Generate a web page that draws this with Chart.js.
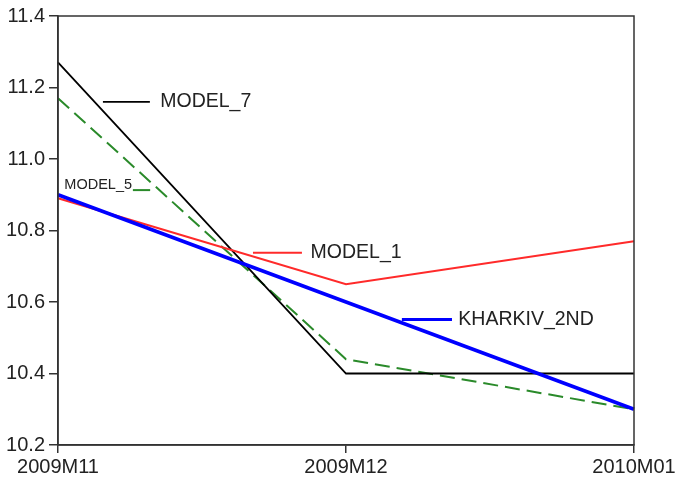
<!DOCTYPE html>
<html>
<head>
<meta charset="utf-8">
<script src="https://cdn.jsdelivr.net/npm/chart.js@4"></script>
<style>
  html, body { margin: 0; padding: 0; background: #fff; }
  #wrap { width: 678px; height: 481px; }
</style>
</head>
<body>
<div id="wrap"><canvas id="myChart" width="678" height="481"></canvas></div>
<script>
// Monthly series
const periods = ['2009M11', '2009M12', '2010M01'];
const kharkiv2nd = [10.90, 10.60, 10.30];
const model1 = [10.89, 10.65, 10.77];
const model5 = [11.17, 10.44, 10.30];
const model7 = [11.27, 10.40, 10.40];
const yMin = 10.2;
const yMax = 11.4;
const yStep = 0.2;

const FONT = '"Liberation Sans", Arial, sans-serif';

// Inline series names with a short sample of the line, placed in data units
const tags = [
    { text: 'MODEL_7', x0: 0.156, x1: 0.319, y: 11.16, tx: 0.355, color: '#000000', width: 1.8, size: 19.5 },
    { text: 'MODEL_5', x0: 0.26, x1: 0.32, y: 10.913, tx: 0.022, color: '#2a8a2a', width: 2, size: 14.5, textFirst: true },
    { text: 'MODEL_1', x0: 0.677, x1: 0.847, y: 10.738, tx: 0.877, color: '#ff2a2a', width: 2, size: 19.5 },
    { text: 'KHARKIV_2ND', x0: 1.194, x1: 1.368, y: 10.551, tx: 1.39, color: '#0000ff', width: 3, size: 19.5 }
];

const tagPlugin = {
    id: 'tags',
    afterDatasetsDraw(chart) {
        const c = chart.ctx;
        const xs = chart.scales.x, ys = chart.scales.y;
        c.save();
        tags.forEach(t => {
            const y = ys.getPixelForValue(t.y);
            c.strokeStyle = t.color;
            c.lineWidth = t.width;
            c.beginPath();
            c.moveTo(xs.getPixelForValue(t.x0), y);
            c.lineTo(xs.getPixelForValue(t.x1), y);
            c.stroke();
            c.fillStyle = '#222';
            c.font = t.size + 'px ' + FONT;
            c.textBaseline = t.textFirst ? 'alphabetic' : 'middle';
            c.textAlign = 'left';
            c.fillText(t.text, xs.getPixelForValue(t.tx), t.textFirst ? y - 1 : y);
        });
        c.restore();
    }
};

// Box around the plot area
const framePlugin = {
    id: 'frame',
    afterDraw(chart) {
        const a = chart.chartArea;
        const c = chart.ctx;
        c.save();
        c.strokeStyle = '#333';
        c.lineWidth = 1.5;
        c.strokeRect(a.left, a.top, a.right - a.left, a.bottom - a.top);
        c.restore();
    }
};

const ctx = document.getElementById('myChart').getContext('2d');
let myChart = new Chart(ctx, {
    type: 'line',
    data: {
        labels: periods,
        datasets: [
            { label: 'KHARKIV_2ND', data: kharkiv2nd, borderColor: '#0000ff', borderWidth: 3.5 },
            { label: 'MODEL_1', data: model1, borderColor: '#ff2a2a', borderWidth: 2 },
            { label: 'MODEL_7', data: model7, borderColor: '#000000', borderWidth: 1.8 },
            { label: 'MODEL_5', data: model5, borderColor: '#2a8a2a', borderWidth: 2, borderDash: [15, 7] }
        ]
    },
    options: {
        responsive: false,
        animation: false,
        tension: 0,
        elements: { point: { radius: 0 } },
        layout: { padding: { top: 15, right: 44, left: 0, bottom: 0 } },
        plugins: {
            legend: { display: false },
            tooltip: { enabled: false }
        },
        scales: {
            x: {
                type: 'category',
                offset: false,
                afterFit: s => { s.height = 36; },
                grid: { drawOnChartArea: false, drawTicks: true, tickLength: 8, color: '#333', lineWidth: 1.5 },
                border: { display: true, color: '#333', width: 1.5 },
                ticks: {
                    color: '#222',
                    font: { family: FONT, size: 20 },
                    padding: 2,
                    maxRotation: 0,
                    autoSkip: false
                }
            },
            y: {
                min: yMin,
                max: yMax,
                afterFit: s => { s.width = 58; },
                grid: { drawOnChartArea: false, drawTicks: true, tickLength: 9, color: '#333', lineWidth: 1.5 },
                border: { display: true, color: '#333', width: 1.5 },
                ticks: {
                    stepSize: yStep,
                    color: '#222',
                    font: { family: FONT, size: 20 },
                    padding: 4,
                    callback: v => Number(v).toFixed(1)
                }
            }
        }
    },
    plugins: [tagPlugin, framePlugin]
});
</script>
</body>
</html>
